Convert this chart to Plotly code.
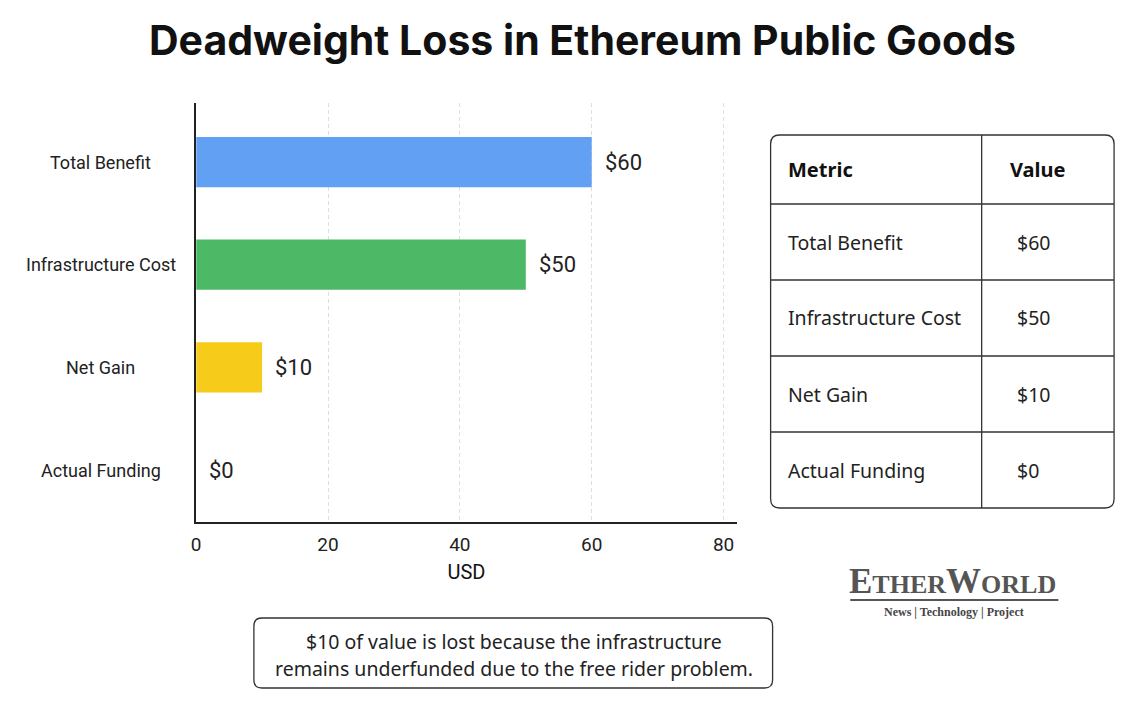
import plotly.graph_objects as go

# ---------------- data ----------------
categories = ["Total Benefit", "Infrastructure Cost", "Net Gain", "Actual Funding"]
values = [60, 50, 10, 0]
bar_colors = ["#62a0f3", "#4db866", "#f6cb1a", "#9e9e9e"]
value_labels = ["$60", "$50", "$10", "$0"]
x_ticks = [0, 20, 40, 60, 80]
table_header = ["Metric", "Value"]
title_text = "Deadweight Loss in Ethereum Public Goods"
note_lines = ["$10 of value is lost because the infrastructure",
              "remains underfunded due to the free rider problem."]

W, H = 1132, 712


def px(x):
    return x / W


def py(y):
    return 1 - y / H


def rounded_rect(x0, y0, x1, y1, r):
    X0, X1 = px(x0), px(x1)
    Y0, Y1 = py(y0), py(y1)
    rx, ry = r / W, r / H
    return (f"M {X0+rx},{Y0} L {X1-rx},{Y0} Q {X1},{Y0} {X1},{Y0-ry} "
            f"L {X1},{Y1+ry} Q {X1},{Y1} {X1-rx},{Y1} L {X0+rx},{Y1} "
            f"Q {X0},{Y1} {X0},{Y1+ry} L {X0},{Y0-ry} Q {X0},{Y0} {X0+rx},{Y0} Z")


fig = go.Figure()
fig.add_trace(go.Bar(
    x=values, y=categories, orientation="h",
    marker=dict(color=bar_colors, line=dict(width=0)),
    width=0.49, hoverinfo="skip", showlegend=False,
))

label_font = "Roboto"
annotations = []
shapes = []

for c in categories:
    annotations.append(dict(x=px(96), xref="paper", y=c, yref="y", text=c,
                            showarrow=False, xanchor="center",
                            font=dict(family=label_font, size=18, color="#222")))
for v, lab, c in zip(values, value_labels, categories):
    annotations.append(dict(x=v, xref="x", y=c, yref="y", text=lab,
                            showarrow=False, xanchor="left", xshift=11,
                            font=dict(family=label_font, size=22, color="#222")))

annotations.append(dict(x=px(580), y=py(40), xref="paper", yref="paper",
                        text=f"<b>{title_text}</b>", showarrow=False,
                        xanchor="center", yanchor="middle",
                        font=dict(family="Inter", size=41, color="#111")))

# ---------------- table ----------------
tx0, tx1, ty0, ty1 = 769, 1114, 135, 508
col_x = 981
row_edges = [135, 204, 280, 356, 432, 508]
shapes.append(dict(type="path", path=rounded_rect(tx0, ty0, tx1, ty1, 9),
                   xref="paper", yref="paper", line=dict(color="#333", width=1.3),
                   fillcolor="rgba(0,0,0,0)"))
shapes.append(dict(type="line", xref="paper", yref="paper",
                   x0=px(col_x), x1=px(col_x), y0=py(ty0), y1=py(ty1),
                   line=dict(color="#333", width=1.3)))
for ye in row_edges[1:-1]:
    shapes.append(dict(type="line", xref="paper", yref="paper",
                       x0=px(tx0), x1=px(tx1), y0=py(ye), y1=py(ye),
                       line=dict(color="#333", width=1.3)))

table_font = "Noto Sans"
hy = (row_edges[0] + row_edges[1]) / 2
annotations.append(dict(x=px(784), y=py(hy), xref="paper", yref="paper",
                        text=f"<b>{table_header[0]}</b>", showarrow=False,
                        xanchor="left", yanchor="middle",
                        font=dict(family=table_font, size=20, color="#111")))
annotations.append(dict(x=px(1038), y=py(hy), xref="paper", yref="paper",
                        text=f"<b>{table_header[1]}</b>", showarrow=False,
                        xanchor="center", yanchor="middle",
                        font=dict(family=table_font, size=20, color="#111")))
for i, (c, lab) in enumerate(zip(categories, value_labels)):
    yc = (row_edges[i + 1] + row_edges[i + 2]) / 2
    annotations.append(dict(x=px(784), y=py(yc), xref="paper", yref="paper",
                            text=c, showarrow=False, xanchor="left", yanchor="middle",
                            font=dict(family=table_font, size=19.5, color="#222")))
    annotations.append(dict(x=px(1014), y=py(yc), xref="paper", yref="paper",
                            text=lab, showarrow=False, xanchor="left", yanchor="middle",
                            font=dict(family=table_font, size=19.5, color="#222")))

# ---------------- note box ----------------
shapes.append(dict(type="path", path=rounded_rect(250, 618, 771, 688, 8),
                   xref="paper", yref="paper", line=dict(color="#333", width=1.3),
                   fillcolor="white"))
for line, yl in zip(note_lines, [641, 668]):
    annotations.append(dict(x=px(511), y=py(yl), xref="paper", yref="paper",
                            text=line, showarrow=False, xanchor="center", yanchor="middle",
                            font=dict(family=table_font, size=19.5, color="#222")))

# ---------------- logo ----------------
annotations.append(dict(x=px(952), y=py(581), xref="paper", yref="paper",
                        text='<b><span style="font-size:35px">E</span>THER<span style="font-size:35px">W</span>ORLD</b>',
                        showarrow=False, xanchor="center", yanchor="middle",
                        font=dict(family="Liberation Serif", size=26, color="#555")))
shapes.append(dict(type="line", xref="paper", yref="paper",
                   x0=px(849), x1=px(1058), y0=py(600), y1=py(600),
                   line=dict(color="#555", width=2)))
annotations.append(dict(x=px(953), y=py(612), xref="paper", yref="paper",
                        text="<b>News | Technology | Project</b>", showarrow=False,
                        xanchor="center", yanchor="middle",
                        font=dict(family="Liberation Serif", size=12, color="#444")))

fig.update_layout(
    width=W, height=H, autosize=False,
    margin=dict(l=0, r=0, t=0, b=0),
    paper_bgcolor="white", plot_bgcolor="white",
    xaxis=dict(domain=[px(192), px(735)], range=[0, 82], tickvals=x_ticks,
               showgrid=True, gridcolor="#dedede", griddash="4px,3px", gridwidth=1,
               zeroline=False, showline=True, linecolor="#222", linewidth=1.5,
               ticks="", ticklabelstandoff=4,
               tickfont=dict(family=label_font, size=19, color="#222"),
               title=dict(text="USD", font=dict(family=label_font, size=20, color="#111"),
                          standoff=10),
               fixedrange=True),
    yaxis=dict(domain=[py(522), py(103)], categoryorder="array", categoryarray=categories,
               range=[3.506, -0.575], showticklabels=False, showgrid=False,
               zeroline=False, showline=True, linecolor="#222", linewidth=1.5,
               ticks="", fixedrange=True),
    annotations=annotations, shapes=shapes,
    bargap=0.5,
)

fig.write_html("out.html")
